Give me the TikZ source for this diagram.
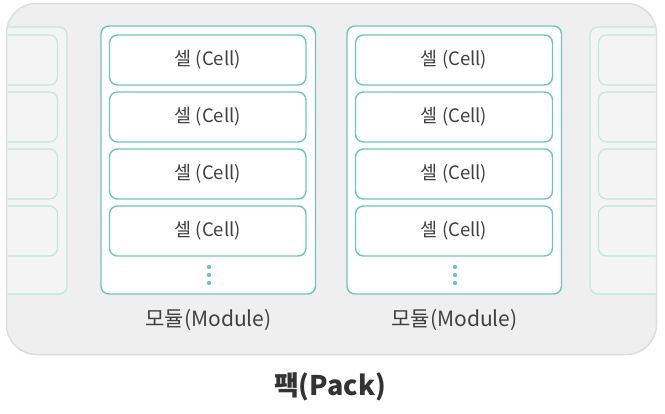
\documentclass[tikz,border=0pt]{standalone}
\usepackage{fontspec}
\setmainfont{Noto Sans CJK KR}
\definecolor{packgray}{HTML}{EFEFEF}
\definecolor{packedge}{HTML}{DEDEDE}
\definecolor{teal}{HTML}{6CC8B4}
\definecolor{fadeteal}{HTML}{C2E6DC}
\definecolor{fadefill}{HTML}{F4F4F4}
\definecolor{txtgray}{HTML}{404040}
\tikzset{
  modbox/.style={draw=teal, fill=white, line width=1.4pt, rounded corners=8pt, inner sep=0pt},
  cellbox/.style={draw=teal, fill=white, line width=1.4pt, rounded corners=8pt, inner sep=0pt,
    minimum height=50pt, font=\fontsize{18.5}{22}\selectfont, text=txtgray},
  ghostmod/.style={draw=fadeteal, fill=fadefill, line width=1.2pt, rounded corners=8pt},
  ghostcell/.style={draw=fadeteal, fill=fadefill, line width=1.2pt, rounded corners=8pt},
  lbl/.style={font=\fontsize{21}{24}\selectfont, text=txtgray, inner sep=0pt},
  packlbl/.style={font=\fontsize{27}{30}\selectfont\bfseries, text=black!80, inner sep=0pt},
  dot/.style={fill=teal}
}
\begin{document}
\begin{tikzpicture}[x=1pt,y=-1pt]
\useasboundingbox (0,0) rectangle (665,413);
\fill[white] (0,0) rectangle (665,413);
% pack
\draw[packedge, fill=packgray, line width=1.5pt, rounded corners=30pt] (6.5,3.5) rectangle (656.5,354.5);
\begin{scope}
  \clip[rounded corners=30pt] (7.5,4.5) rectangle (655.5,353.5);
  % left partial module
  \draw[ghostmod] (-150,27) rectangle (67,294);
  \foreach \t in {35,92,149,206} \draw[ghostcell] (-150,\t) rectangle (57.5,\t+50);
  % right partial module
  \draw[ghostmod] (590,27) rectangle (800,294);
  \foreach \t in {35,92,149,206} \draw[ghostcell] (598.5,\t) rectangle (800,\t+50);
\end{scope}
% module 1
\node[modbox, minimum width=214.5pt, minimum height=268pt] (m1) at (208.25,160) {};
\node[cellbox, minimum width=196.5pt] (c11) at (207.75,60) {셀 (Cell)};
\node[cellbox, minimum width=196.5pt] (c12) at (207.75,117) {셀 (Cell)};
\node[cellbox, minimum width=196.5pt] (c13) at (207.75,174) {셀 (Cell)};
\node[cellbox, minimum width=196.5pt] (c14) at (207.75,231) {셀 (Cell)};
\foreach \y in {267,275,283} \fill[dot] (209,\y) circle (2.2pt);
% module 2
\node[modbox, minimum width=214.5pt, minimum height=268pt] (m2) at (454.25,160) {};
\node[cellbox, minimum width=197pt] (c21) at (454,60) {셀 (Cell)};
\node[cellbox, minimum width=197pt] (c22) at (454,117) {셀 (Cell)};
\node[cellbox, minimum width=197pt] (c23) at (454,174) {셀 (Cell)};
\node[cellbox, minimum width=197pt] (c24) at (454,231) {셀 (Cell)};
\foreach \y in {267,275,283} \fill[dot] (455,\y) circle (2.2pt);
% labels
\node[lbl] (l1) at (208.5,320) {모듈(Module)};
\node[lbl] (l2) at (454.5,320) {모듈(Module)};
\node[packlbl] (pk) at (330,387) {팩(Pack)};
\end{tikzpicture}
\end{document}
